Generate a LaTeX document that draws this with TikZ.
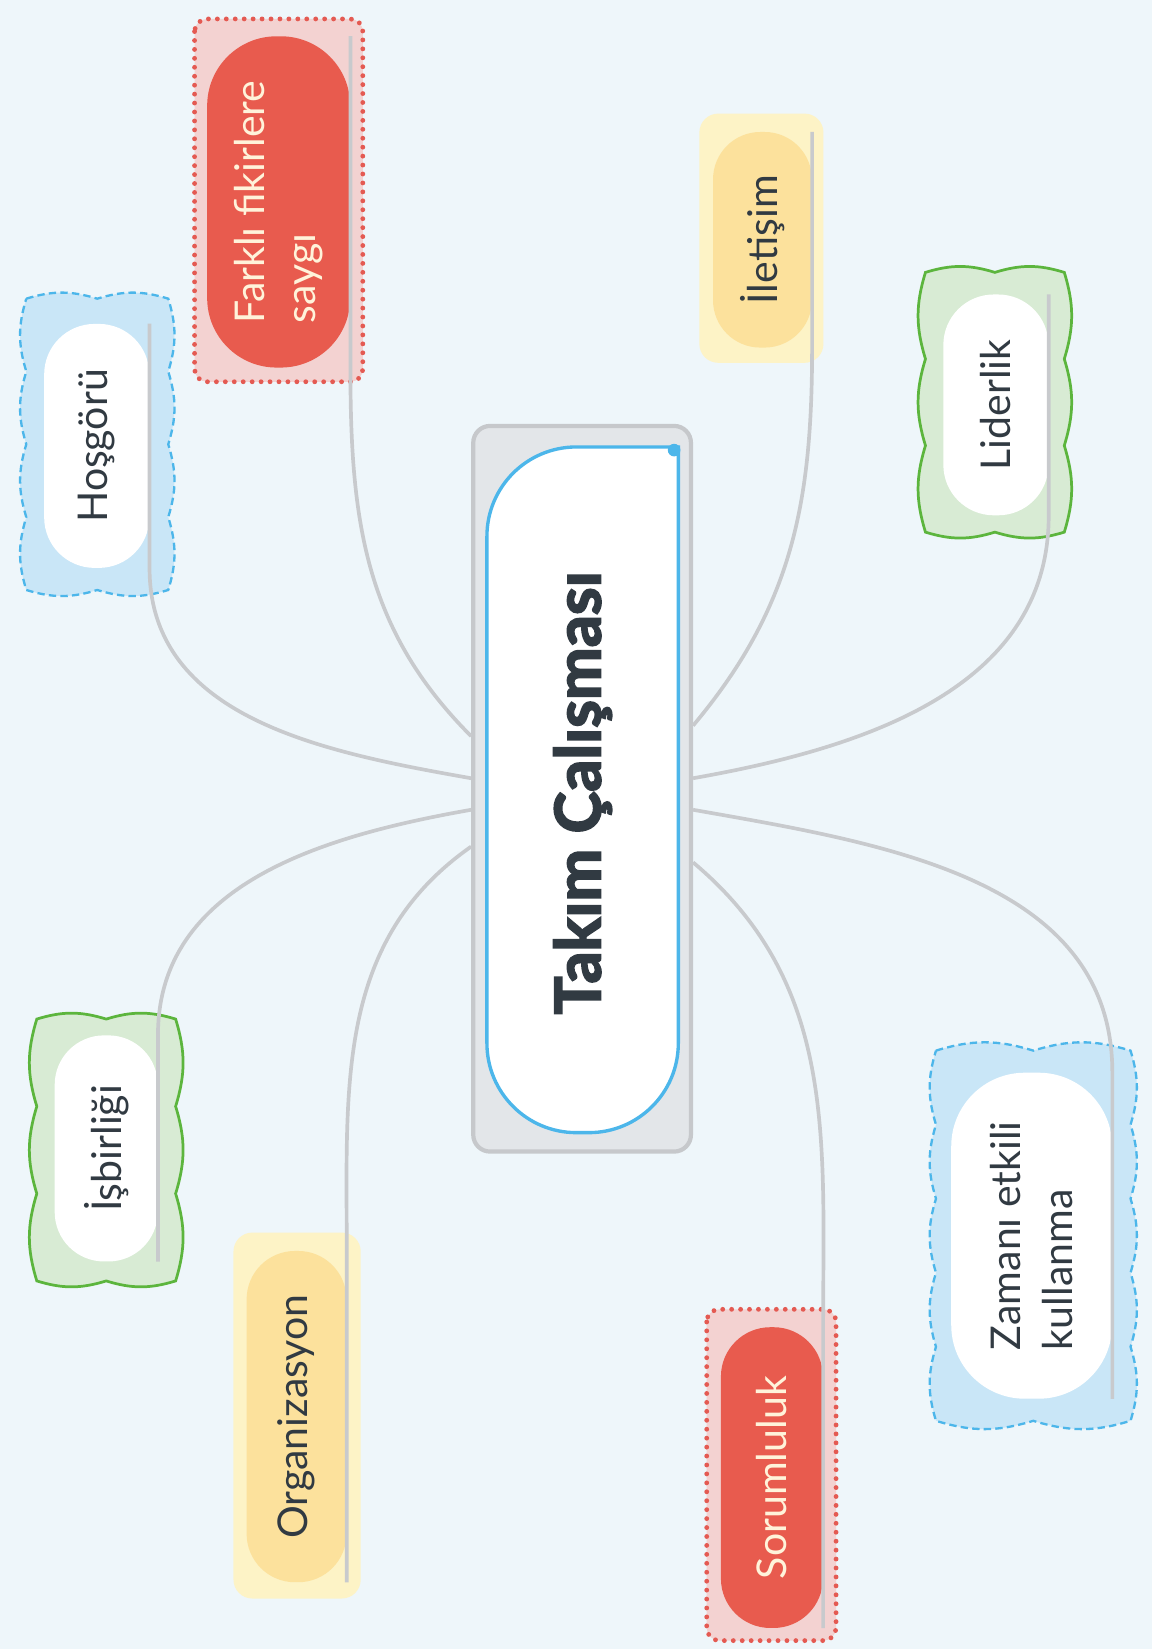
\documentclass[tikz,border=0pt]{standalone}
\usepackage{fontspec}
\setmainfont{Lato}
\newfontfamily\heavyfont[BoldFeatures={FakeBold=3}]{Lato}
\definecolor{bgblue}{HTML}{EEF6FA}
\definecolor{boxfill}{HTML}{E3E6E9}
\definecolor{boxline}{HTML}{C6C8CB}
\definecolor{skyblue}{HTML}{4CB6EA}
\definecolor{cloudfill}{HTML}{C9E6F7}
\definecolor{leafgreen}{HTML}{5CB53D}
\definecolor{greenfill}{HTML}{D8EBD4}
\definecolor{yelpale}{HTML}{FDF3C6}
\definecolor{yelpill}{HTML}{FCE19C}
\definecolor{redpill}{HTML}{E85B4E}
\definecolor{redpale}{HTML}{F3D2D1}
\definecolor{redline}{HTML}{E45A52}
\definecolor{conngray}{HTML}{C8CACD}
\definecolor{inkdark}{HTML}{313A42}
\definecolor{cream}{HTML}{FFF3DA}

% scalloped frame: style, left, top, right, bottom, bumps across, bumps down
\newcommand{\cloudframe}[7]{%
  \draw[#1] (#2,#3)
    \foreach \k in {1,...,#6} { to[bend left=17] ({#2+(#4-#2)*\k/#6},#3) }
    \foreach \k in {1,...,#7} { to[bend left=17] (#4,{#3+(#5-#3)*\k/#7}) }
    \foreach \k in {1,...,#6} { to[bend left=17] ({#4-(#4-#2)*\k/#6},#5) }
    \foreach \k in {1,...,#7} { to[bend left=17] (#2,{#5-(#5-#3)*\k/#7}) }
    -- cycle;}

\tikzset{
  conn/.style={draw=conngray, line width=3.5},
  pill/.style={rotate=90, font=\fontsize{39}{49}\selectfont, text=inkdark, align=left, inner sep=0},
  cloudblue/.style={fill=cloudfill, draw=skyblue, line width=2.2, dash pattern=on 7pt off 4pt},
  cloudgreen/.style={fill=greenfill, draw=leafgreen, line width=2.6},
  redframe/.style={fill=redpale, draw=redline, line width=4.6, line cap=round, dash pattern=on 0pt off 8.5pt},
  yelframe/.style={fill=yelpale, rounded corners=18}
}

\begin{document}
\begin{tikzpicture}[x=1pt,y=1pt]
\useasboundingbox (0,0) rectangle (1095.4,-1568);
\fill[bgblue] (0,0) rectangle (1095.4,-1568);

% frames round the branches
\cloudframe{cloudblue}{25}{-284}{160}{-561}{2}{4}
\cloudframe{cloudgreen}{880}{-259}{1012}{-506}{2}{3}
\cloudframe{cloudgreen}{35}{-969}{167}{-1218}{2}{3}
\cloudframe{cloudblue}{890}{-999}{1075}{-1351}{2}{5}
\draw[redframe, rounded corners=12] (185,-18) rectangle (345,-363);
\draw[redframe, rounded corners=12] (672,-1245) rectangle (795,-1560);
\fill[yelframe] (665,-108) rectangle (783,-345);
\fill[yelframe] (222,-1172) rectangle (343,-1520);

% branches
\node[pill, fill=white, minimum width=232, minimum height=100, rounded corners=48] (hos) at (92,-424) {Hoşgörü};
\node[pill, fill=redpill, text=cream, minimum width=315, minimum height=136, rounded corners=66] (far) at (265,-192) {Farklı fikirlere\\saygı};
\node[pill, fill=yelpill, minimum width=205, minimum height=94, rounded corners=45] (ile) at (725,-228) {İletişim};
\node[pill, fill=white, minimum width=210, minimum height=100, rounded corners=48] (lid) at (947,-385) {Liderlik};
\node[pill, fill=white, minimum width=215, minimum height=98, rounded corners=47] (isb) at (101,-1092) {İşbirliği};
\node[pill, fill=yelpill, minimum width=315, minimum height=95, rounded corners=46] (org) at (282,-1347) {Organizasyon};
\node[pill, fill=redpill, text=cream, minimum width=286, minimum height=97, rounded corners=47] (sor) at (734,-1405) {Sorumluluk};
\node[pill, fill=white, minimum width=310, minimum height=153, rounded corners=70] (zam) at (981,-1175) {Zamanı etkili\\kullanma};

% central topic
\node[draw=boxline, fill=boxfill, line width=4, rounded corners=16, minimum width=207, minimum height=690] (tcbox) at (553.5,-750) {};
\draw[skyblue, fill=white, line width=3.2] (645,-425) -- (548,-425) arc[start angle=90, end angle=180, radius=85]
  -- (463,-992) arc[start angle=180, end angle=270, radius=85] -- (560,-1077)
  arc[start angle=270, end angle=360, radius=85] -- cycle;
\fill[skyblue] (641,-428) circle (6);
\node[rotate=90, font=\heavyfont\bfseries\fontsize{60}{70}\selectfont, text=inkdark] (tc) at (554,-754) {Takım Çalışması};

% connectors
\draw[conn] (hos.south east) -- (hos.south west) to[out=-90, in=170] ([yshift=10]tcbox.west);
\draw[conn] (far.south east) -- (far.south west) to[out=-90, in=135] ([yshift=50]tcbox.west);
\draw[conn] (isb.south west) -- (isb.south east) to[out=90, in=190] ([yshift=-20]tcbox.west);
\draw[conn] (org.south west) -- (org.south east) to[out=90, in=215] ([yshift=-55]tcbox.west);
\draw[conn] (ile.south east) -- (ile.south west) to[out=-90, in=50] ([yshift=60]tcbox.east);
\draw[conn] (lid.south east) -- (lid.south west) to[out=-90, in=10] ([yshift=10]tcbox.east);
\draw[conn] (zam.south west) -- (zam.south east) to[out=90, in=-10] ([yshift=-20]tcbox.east);
\draw[conn] (sor.south west) -- (sor.south east) to[out=90, in=-40] ([yshift=-70]tcbox.east);
\end{tikzpicture}
\end{document}
